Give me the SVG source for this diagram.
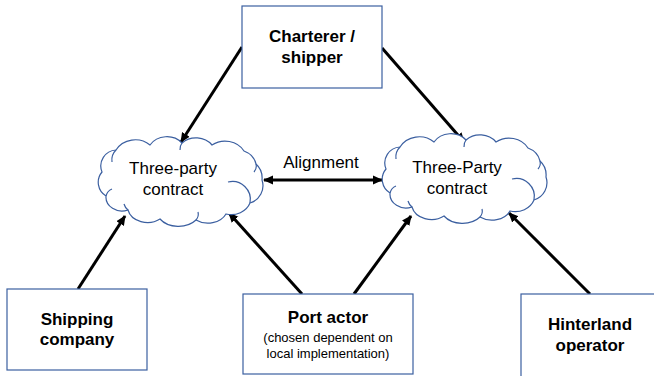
<svg xmlns="http://www.w3.org/2000/svg" width="654" height="376" viewBox="0 0 654 376">
  <style>
    .box { fill: #ffffff; stroke: #3b5fa0; stroke-width: 1.2; }
    .cloud { fill: #ffffff; stroke: #3b5fa0; stroke-width: 1.2; }
    .inner { fill: none; stroke: #3b5fa0; stroke-width: 1.2; }
    .bold { font-family: "Liberation Sans", Arial, sans-serif; font-weight: bold; font-size: 17px; fill: #000; text-anchor: middle; }
    .reg { font-family: "Liberation Sans", Arial, sans-serif; font-size: 17px; fill: #000; text-anchor: middle; }
    .small { font-family: "Liberation Sans", Arial, sans-serif; font-size: 13px; fill: #000; text-anchor: middle; }
    .conn { stroke: #000; stroke-width: 3; fill: none; }
  </style>
  <defs>
    <marker id="ah" viewBox="0 0 10 10" refX="9" refY="5" markerWidth="10" markerHeight="10" markerUnits="userSpaceOnUse" orient="auto-start-reverse">
      <path d="M0,0.5 L10,5 L0,9.5 z" fill="#000"/>
    </marker>
    <g id="cloudShape">
      <path class="cloud" d="M102,172 A16,16 0 0 1 116,150 A22,20 0 0 1 150,145 A20,18 0 0 1 182,143 A20,18 0 0 1 212,145 A22,20 0 0 1 244,151 A20,18 0 0 1 256,164 A16,18 0 0 1 262,180 A18,18 0 0 1 250,203 A20,18 0 0 1 226,214 A20,16 0 0 1 196,220 A22,16 0 0 1 160,219 A20,16 0 0 1 128,210 A16,14 0 0 1 106,196 A16,16 0 0 1 102,172 Z"/>
      <path class="inner" d="M106,196 A10,10 0 0 1 112,189"/>
      <path class="inner" d="M128,210 A14,12 0 0 1 124,204"/>
      <path class="inner" d="M196,220 A12,10 0 0 0 198,212"/>
      <path class="inner" d="M250,203 A18,18 0 0 0 228,182"/>
      <path class="inner" d="M256,164 A12,10 0 0 1 254,172"/>
      <path class="inner" d="M182,143 A10,10 0 0 0 180,150"/>
      <path class="inner" d="M116,150 A14,14 0 0 0 112,162"/>
    </g>
  </defs>

  <g id="connectors">
    <line class="conn" x1="242" y1="47" x2="181" y2="142" marker-end="url(#ah)"/>
    <line class="conn" x1="382" y1="48" x2="464" y2="142" marker-end="url(#ah)"/>
    <line class="conn" x1="264" y1="180" x2="382" y2="180" marker-start="url(#ah)" marker-end="url(#ah)"/>
    <line class="conn" x1="78" y1="289" x2="125" y2="216" marker-end="url(#ah)"/>
    <line class="conn" x1="302" y1="294" x2="229" y2="213" marker-end="url(#ah)"/>
    <line class="conn" x1="354" y1="294" x2="411" y2="216" marker-end="url(#ah)"/>
    <line class="conn" x1="590" y1="294" x2="509" y2="213" marker-end="url(#ah)"/>
  </g>

  <g id="charterer">
    <rect class="box" x="242" y="6" width="140" height="82"/>
    <text class="bold" x="312" y="42">Charterer /</text>
    <text class="bold" x="312" y="63">shipper</text>
  </g>

  <g id="contract-left">
    <use href="#cloudShape"/>
    <text class="reg" x="173" y="174">Three-party</text>
    <text class="reg" x="173" y="195">contract</text>
  </g>

  <g id="contract-right">
    <use href="#cloudShape" transform="translate(284,-3)"/>
    <text class="reg" x="457" y="173">Three-Party</text>
    <text class="reg" x="457" y="194">contract</text>
  </g>

  <g id="alignment-label">
    <text class="reg" x="321" y="168">Alignment</text>
  </g>

  <g id="shipping">
    <rect class="box" x="7" y="289" width="140" height="81"/>
    <text class="bold" x="77" y="325">Shipping</text>
    <text class="bold" x="77" y="345">company</text>
  </g>

  <g id="port">
    <rect class="box" x="243" y="294" width="170" height="80"/>
    <text class="bold" x="328" y="323">Port actor</text>
    <text class="small" x="328" y="342">(chosen dependent on</text>
    <text class="small" x="328" y="358">local implementation)</text>
  </g>

  <g id="hinterland">
    <rect class="box" x="521" y="294" width="140" height="84"/>
    <text class="bold" x="590" y="330">Hinterland</text>
    <text class="bold" x="590" y="351">operator</text>
  </g>
</svg>
